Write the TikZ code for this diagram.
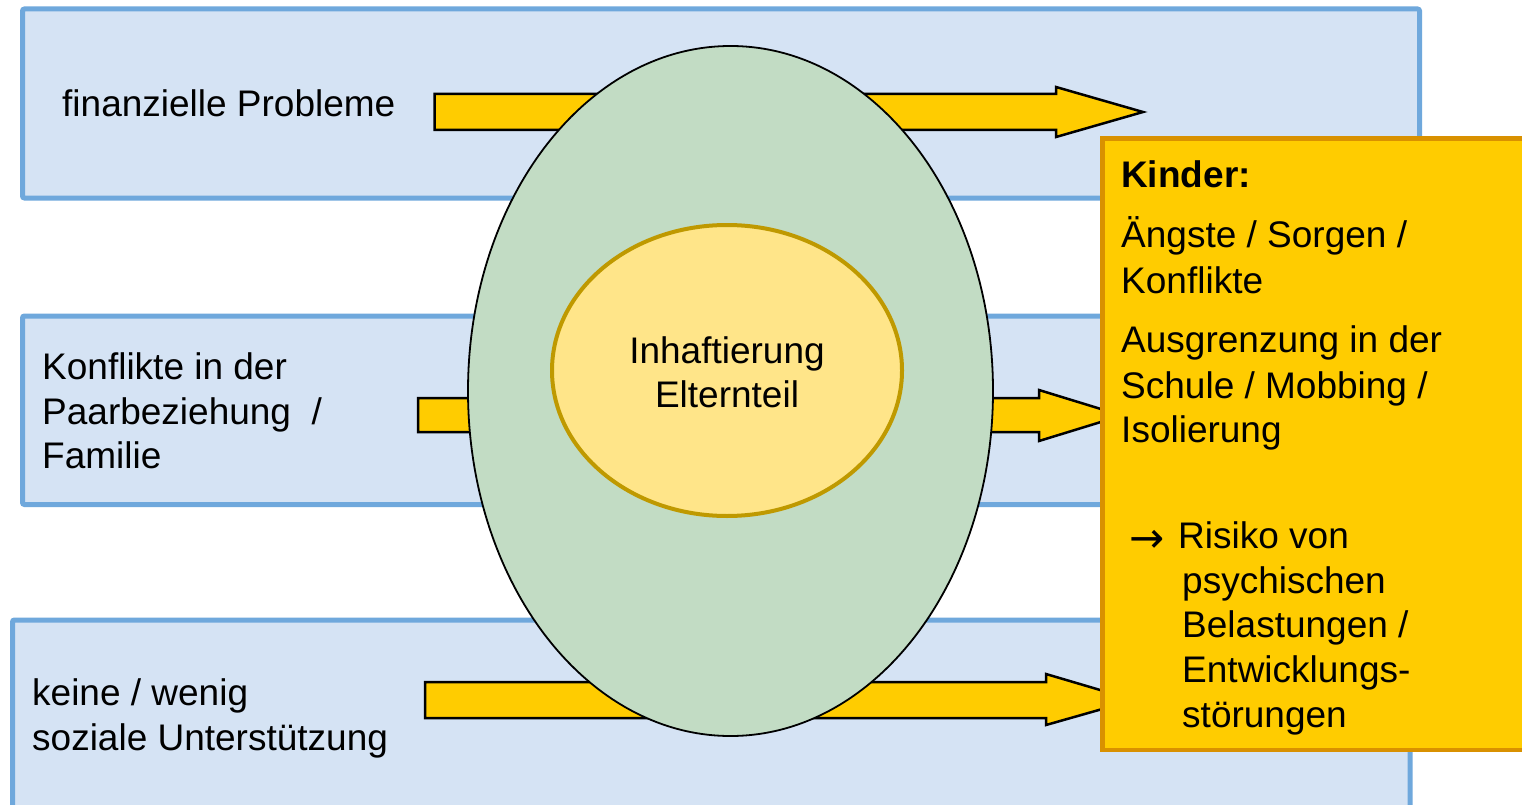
\documentclass[tikz,border=0pt]{standalone}
\usepackage{fontspec}
\setmainfont{Liberation Sans}
\newfontfamily\arrowfont{DejaVu Sans}
\usetikzlibrary{shapes.geometric}
\definecolor{bandfill}{HTML}{D5E3F4}
\definecolor{bandline}{HTML}{6FA8DC}
\definecolor{arrowfill}{HTML}{FFCC00}
\definecolor{outerfill}{HTML}{C2DCC4}
\definecolor{innerfill}{HTML}{FFE589}
\definecolor{innerline}{HTML}{BF9900}
\definecolor{boxfill}{HTML}{FFCC00}
\definecolor{boxline}{HTML}{D99100}
\tikzset{
  band/.style={fill=bandfill,draw=bandline,line width=5pt,rounded corners=2pt},
  blockarrow/.style={fill=arrowfill,draw=black,line width=2.5pt,line join=miter},
  txt/.style={anchor=base west,inner sep=0pt,font=\fontsize{37}{45}\selectfont},
  ctxt/.style={anchor=base,inner sep=0pt,font=\fontsize{37}{45}\selectfont},
}
\begin{document}
\begin{tikzpicture}[x=1pt,y=-1pt]
\useasboundingbox (0,0) rectangle (1522,805);
\fill[white] (0,0) rectangle (1522,805);
% bands
\draw[band] (22.5,9) rectangle (1419.5,198);
\draw[band] (22.5,316) rectangle (1419.5,504.5);
\draw[band] (12.5,620) rectangle (1410,830);
% block arrows
\draw[blockarrow] (434.5,94) -- (1056,94) -- (1056,87) -- (1143,112) -- (1056,137) -- (1056,130) -- (434.5,130) -- cycle;
\draw[blockarrow] (418,398) -- (1039,398) -- (1039,390) -- (1122,415.5) -- (1039,441) -- (1039,432) -- (418,432) -- cycle;
\draw[blockarrow] (425,682) -- (1046,682) -- (1046,674) -- (1134,700) -- (1046,725) -- (1046,718) -- (425,718) -- cycle;
% ellipses
\node[ellipse,fill=outerfill,draw=black,line width=1.8pt,minimum width=525pt,minimum height=690pt,inner sep=0pt] (outer) at (730.5,391) {};
\node[ellipse,fill=innerfill,draw=innerline,line width=4pt,minimum width=350pt,minimum height=291pt,inner sep=0pt] (inner) at (727,370.5) {};
\node[ctxt] (in1) at (727,363) {Inhaftierung};
\node[ctxt] (in2) at (727,407) {Elternteil};
% left texts
\node[txt] (t1) at (62,117) {finanzielle Probleme};
\node[txt] (t2a) at (42,379) {Konflikte in der};
\node[txt] (t2b) at (42,424) {Paarbeziehung\ \ /};
\node[txt] (t2c) at (42,468) {Familie};
\node[txt] (t3a) at (32,705) {keine / wenig};
\node[txt] (t3b) at (32,750) {soziale Unterstützung};
% right box
\node[fill=boxfill,draw=boxline,line width=4.5pt,anchor=north west,minimum width=460pt,minimum height=611pt,inner sep=0pt] (box) at (1100,136.5) {};
\node[txt,font=\fontsize{37}{45}\selectfont\bfseries] (k0) at (1121,187) {Kinder:};
\node[txt] (k1) at (1121,247) {Ängste / Sorgen /};
\node[txt] (k2) at (1121,293) {Konflikte};
\node[txt] (k3) at (1121,352) {Ausgrenzung in der};
\node[txt] (k4) at (1121,398) {Schule / Mobbing /};
\node[txt] (k5) at (1121,442) {Isolierung};
\node[txt,font=\fontsize{42}{45}\arrowfont] (k6a) at (1129,552) {→};
\node[txt] (k6) at (1178,548) {Risiko von};
\node[txt] (k7) at (1182,593) {psychischen};
\node[txt] (k8) at (1182,637) {Belastungen /};
\node[txt] (k9) at (1182,682) {Entwicklungs-};
\node[txt] (k10) at (1182,727) {störungen};
\end{tikzpicture}
\end{document}
